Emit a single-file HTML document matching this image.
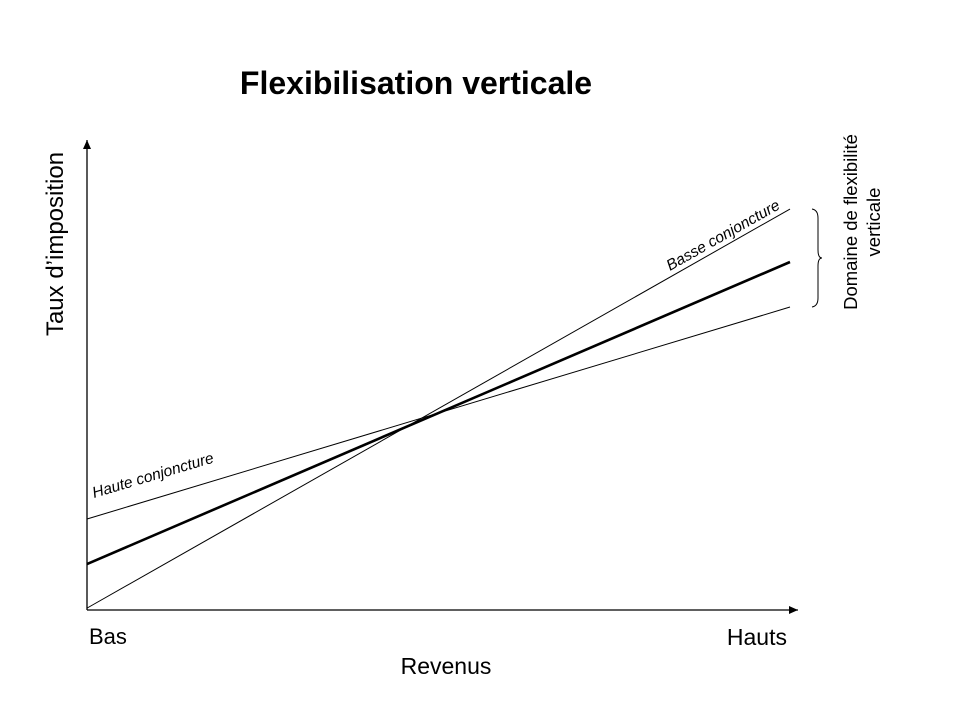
<!DOCTYPE html>
<html><head><meta charset="utf-8"><style>
html,body{margin:0;padding:0;background:#fff;}
svg{display:block;font-family:"Liberation Sans",Arial,sans-serif;}
</style></head><body>
<svg id="chart" width="960" height="720" viewBox="0 0 960 720" xmlns="http://www.w3.org/2000/svg">
<defs><marker id="ar" markerWidth="10" markerHeight="10" refX="9" refY="5" orient="auto" markerUnits="userSpaceOnUse"><path d="M0,1 L9,5 L0,9 Z" fill="#000"/></marker></defs>
<text x="416" y="94" text-anchor="middle" font-size="32" font-weight="bold">Flexibilisation verticale</text>
<line x1="87" y1="610" x2="87" y2="140" stroke="#000" stroke-width="1.3" marker-end="url(#ar)"/>
<line x1="87" y1="610" x2="798" y2="610" stroke="#000" stroke-width="1.3" marker-end="url(#ar)"/>
<text transform="translate(63,244) rotate(-90)" text-anchor="middle" font-size="24">Taux d’imposition</text>
<text x="446" y="674" text-anchor="middle" font-size="23">Revenus</text>
<text x="89" y="644" font-size="22">Bas</text>
<text x="787" y="645" text-anchor="end" font-size="23">Hauts</text>
<g id="series"></g>
<text transform="translate(94,498) rotate(-16.5)" font-size="15.5" font-style="italic">Haute conjoncture</text>
<text transform="translate(670,271) rotate(-29.5)" font-size="15.5" font-style="italic">Basse conjoncture</text>
<path d="M812,209 Q818,210 818,218 L818,250 Q818,258 822,258 Q818,258 818,266 L818,298 Q818,306 812,307" fill="none" stroke="#000" stroke-width="1"/>
<text transform="translate(857,222) rotate(-90)" text-anchor="middle" font-size="18.5"><tspan x="0" dy="0">Domaine de flexibilité</tspan><tspan x="0" dy="23">verticale</tspan></text>
</svg>
<script>
const xCats=[0,1];
const seriesNames=['basse-conjoncture','moyenne','haute-conjoncture'];
const basseValues=[0.4,85.5];
const moyenneValues=[9.8,74.2];
const hauteValues=[19.4,64.6];
const widths=[1,2.6,1];
const xs=v=>87+v*(790-87);
const ys=v=>610-v*4.69;
const g=document.getElementById('series');
[basseValues,moyenneValues,hauteValues].forEach((vals,i)=>{
  const l=document.createElementNS('http://www.w3.org/2000/svg','polyline');
  l.setAttribute('points',vals.map((v,j)=>xs(xCats[j])+','+ys(v)).join(' '));
  l.setAttribute('fill','none');l.setAttribute('stroke','#000');l.setAttribute('stroke-width',widths[i]);
  
  
  g.appendChild(l);
});
</script>
</body></html>
